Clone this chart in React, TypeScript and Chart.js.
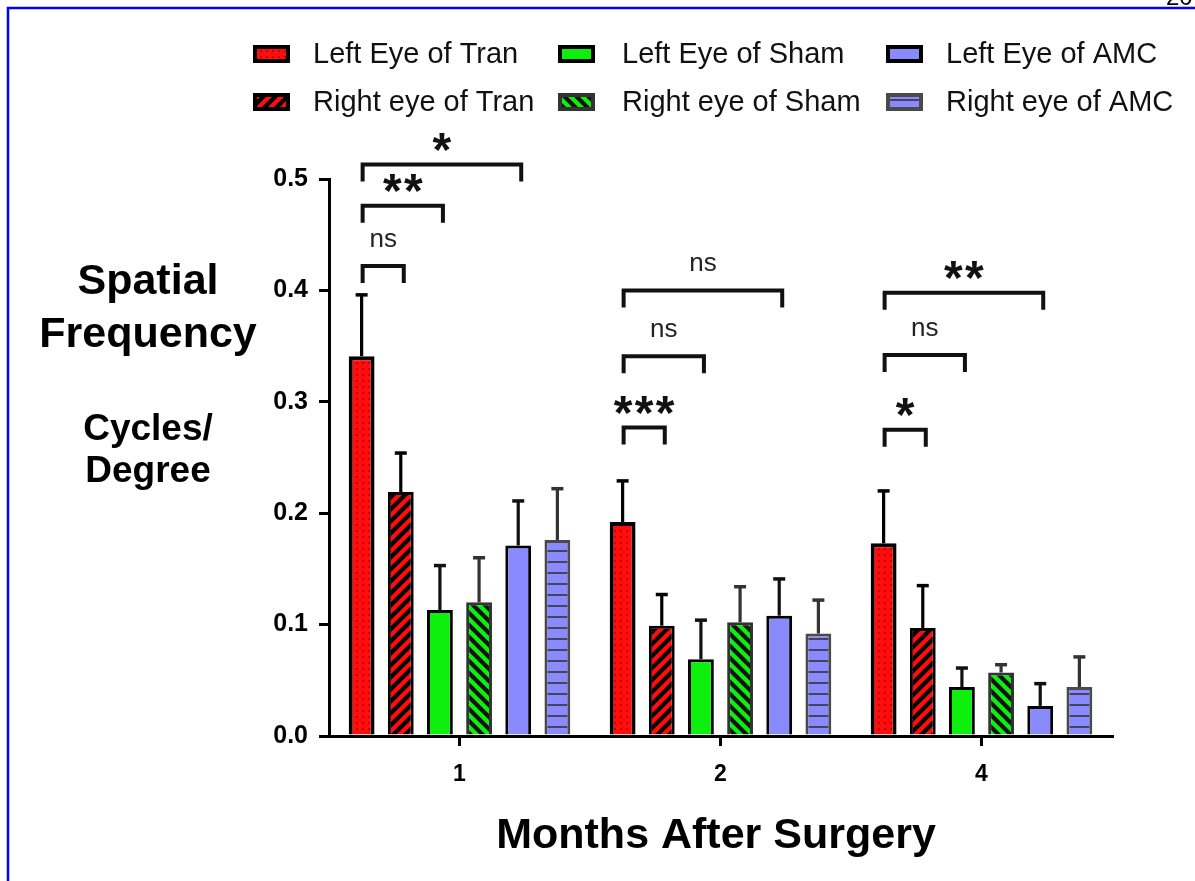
import React, { useEffect, useRef } from "react";
import { Chart, registerables } from "chart.js";
Chart.register(...registerables);

const months = ["1", "2", "4"];
const seriesNames = [
  "Left Eye of Tran",
  "Right eye of Tran",
  "Left Eye of Sham",
  "Right eye of Sham",
  "Left Eye of AMC",
  "Right eye of AMC",
];
const leftTranMean = [0.341, 0.192, 0.173];
const leftTranErr = [0.055, 0.037, 0.047];
const rightTranMean = [0.219, 0.099, 0.097];
const rightTranErr = [0.035, 0.028, 0.038];
const leftShamMean = [0.113, 0.069, 0.044];
const leftShamErr = [0.04, 0.035, 0.017];
const rightShamMean = [0.12, 0.102, 0.057];
const rightShamErr = [0.04, 0.032, 0.007];
const leftAmcMean = [0.171, 0.108, 0.027];
const leftAmcErr = [0.04, 0.033, 0.02];
const rightAmcMean = [0.176, 0.092, 0.044];
const rightAmcErr = [0.046, 0.03, 0.027];
const yTickStep = 0.1;
const yMax = 0.5;

// significance brackets: month index, from series 0 to series index, height (data units), label
const bracketMonth = [0, 0, 0, 1, 1, 1, 2, 2, 2];
const bracketTo = [4, 2, 1, 4, 2, 1, 4, 2, 1];
const bracketLevel = [0.513, 0.476, 0.422, 0.4, 0.341, 0.277, 0.398, 0.342, 0.275];
const bracketLabel = ["*", "**", "ns", "ns", "ns", "***", "**", "ns", "*"];

const FONT = "'Liberation Sans', Arial, Helvetica, sans-serif";

export default function App() {
  const ref = useRef<HTMLCanvasElement>(null);

  useEffect(() => {
    const canvas = ref.current!;
    const ctx0 = canvas.getContext("2d")!;
    const tile = (w: number, h: number, draw: (g: CanvasRenderingContext2D) => void) => {
      const c = document.createElement("canvas");
      c.width = w;
      c.height = h;
      const g = c.getContext("2d")!;
      draw(g);
      return ctx0.createPattern(c, "repeat")!;
    };
    const RED = "#ff0d0d";
    const GREEN = "#0df00d";
    const BLUE = "#8a8aff";

    const dots = tile(6, 6, (g) => {
      g.fillStyle = RED;
      g.fillRect(0, 0, 6, 6);
      g.fillStyle = "#b00000";
      g.beginPath();
      g.arc(3, 3, 1, 0, Math.PI * 2);
      g.fill();
    });
    const stripesUp = tile(12, 12, (g) => {
      g.fillStyle = RED;
      g.fillRect(0, 0, 12, 12);
      g.strokeStyle = "#000";
      g.lineWidth = 4.2;
      g.beginPath();
      g.moveTo(-6, 6); g.lineTo(6, -6);
      g.moveTo(-2, 14); g.lineTo(14, -2);
      g.moveTo(6, 18); g.lineTo(18, 6);
      g.stroke();
    });
    const stripesDown = tile(12, 12, (g) => {
      g.fillStyle = GREEN;
      g.fillRect(0, 0, 12, 12);
      g.strokeStyle = "#111";
      g.lineWidth = 4.2;
      g.beginPath();
      g.moveTo(6, -6); g.lineTo(18, 6);
      g.moveTo(-2, -2); g.lineTo(14, 14);
      g.moveTo(-6, 6); g.lineTo(6, 18);
      g.stroke();
    });
    const hlines = tile(4, 11, (g) => {
      g.fillStyle = BLUE;
      g.fillRect(0, 0, 4, 11);
      g.fillStyle = "#44445e";
      g.fillRect(0, 0, 4, 2);
    });

    const means = [leftTranMean, rightTranMean, leftShamMean, rightShamMean, leftAmcMean, rightAmcMean];
    const errs = [leftTranErr, rightTranErr, leftShamErr, rightShamErr, leftAmcErr, rightAmcErr];
    const fills: any[] = [dots, stripesUp, GREEN, stripesDown, BLUE, hlines];
    const borders = ["#000", "#000", "#000", "#333", "#000", "#4a4a4a"];
    const borderW = [4, 3, 3, 3, 3, 3];
    const errColor = ["#000", "#000", "#111", "#333", "#111", "#333"];

    const decor = {
      id: "decor",
      beforeDraw(chart: any) {
        const c = chart.ctx;
        c.save();
        c.fillStyle = "#fff";
        c.fillRect(0, 0, chart.width, chart.height);
        c.restore();
      },
      afterDatasetsDraw(chart: any) {
        const c: CanvasRenderingContext2D = chart.ctx;
        const ys = chart.scales.y;
        c.save();
        // error bars
        for (let i = 0; i < means.length; i++) {
          const meta = chart.getDatasetMeta(i);
          meta.data.forEach((el: any, j: number) => {
            const top = ys.getPixelForValue(means[i][j] + errs[i][j]);
            c.strokeStyle = errColor[i];
            c.lineWidth = 3.2;
            c.beginPath();
            c.moveTo(el.x, el.y);
            c.lineTo(el.x, top);
            c.stroke();
            c.lineWidth = 3.5;
            c.beginPath();
            c.moveTo(el.x - 6, top);
            c.lineTo(el.x + 6, top);
            c.stroke();
          });
        }
        // brackets
        for (let k = 0; k < bracketLabel.length; k++) {
          const m = bracketMonth[k];
          const x1 = chart.getDatasetMeta(0).data[m].x + 1;
          const x2 = chart.getDatasetMeta(bracketTo[k]).data[m].x + 3;
          const y = ys.getPixelForValue(bracketLevel[k]);
          c.strokeStyle = "#111";
          c.lineWidth = 4;
          c.lineJoin = "miter";
          c.lineCap = "butt";
          c.beginPath();
          c.moveTo(x1, y + 17);
          c.lineTo(x1, y);
          c.lineTo(x2, y);
          c.lineTo(x2, y + 17);
          c.stroke();
          const mid = (x1 + x2) / 2;
          const lab = bracketLabel[k];
          if (lab === "ns") {
            c.font = `26px ${FONT}`;
            c.fillStyle = "#222";
            c.textAlign = "center";
            c.textBaseline = "alphabetic";
            c.fillText(lab, mid, y - 19);
          } else {
            c.font = `bold 48px ${FONT}`;
            c.fillStyle = "#111";
            c.textAlign = "center";
            c.textBaseline = "alphabetic";
            const mt = c.measureText("*");
            const off = (mt.actualBoundingBoxAscent - mt.actualBoundingBoxDescent) / 2;
            const cy = y - 22.5;
            const n = lab.length;
            const step = 21;
            for (let q = 0; q < n; q++) {
              const cx = mid + (q - (n - 1) / 2) * step;
              c.fillText("*", cx, cy + off);
            }
          }
        }
        c.restore();
      },
      afterDraw(chart: any) {
        const c: CanvasRenderingContext2D = chart.ctx;
        c.save();
        // legend
        const colBox = [253, 558, 886];
        const colText = [313, 622, 946];
        const rowBase = [63, 111];
        for (let i = 0; i < seriesNames.length; i++) {
          const col = Math.floor(i / 2);
          const row = i % 2;
          const bx = colBox[col];
          const by = rowBase[row] - 18;
          const bw = 37;
          const bh = 18;
          c.fillStyle = fills[i];
          c.fillRect(bx, by, bw, bh);
          c.strokeStyle = borders[i];
          c.lineWidth = 4;
          c.strokeRect(bx + 2, by + 2, bw - 4, bh - 4);
          c.fillStyle = "#111";
          c.font = `29px ${FONT}`;
          c.textAlign = "left";
          c.textBaseline = "alphabetic";
          c.fillText(seriesNames[i], colText[col], rowBase[row]);
        }
        // y title
        c.fillStyle = "#000";
        c.textAlign = "center";
        c.font = `bold 43px ${FONT}`;
        c.fillText("Spatial", 148, 294);
        c.fillText("Frequency", 148, 347);
        c.font = `bold 37px ${FONT}`;
        c.fillText("Cycles/", 148, 440);
        c.fillText("Degree", 148, 482);
        // x title
        c.font = `bold 43px ${FONT}`;
        c.fillText("Months After Surgery", 716, 848);
        // page number fragment
        c.font = `24px ${FONT}`;
        c.textAlign = "left";
        c.fillText("20", 1166, 5);
        // frame
        c.strokeStyle = "#0000ff";
        c.lineWidth = 2.5;
        c.beginPath();
        c.moveTo(8, chart.height);
        c.lineTo(8, 8);
        c.lineTo(chart.width, 8);
        c.stroke();
        c.restore();
      },
    };

    const chart = new Chart(canvas, {
      type: "bar",
      data: {
        labels: months,
        datasets: seriesNames.map((name, i) => ({
          label: name,
          data: means[i],
          backgroundColor: fills[i],
          borderColor: borders[i],
          borderWidth: borderW[i],
          categoryPercentage: 0.9,
          barPercentage: 0.66,
        })),
      },
      options: {
        animation: false,
        responsive: false,
        events: [],
        layout: { padding: { top: 179, left: 0, right: 83, bottom: 0 } },
        plugins: { legend: { display: false }, tooltip: { enabled: false }, title: { display: false } },
        scales: {
          x: {
            afterFit: (s: any) => { s.height = 145; },
            grid: { display: true, drawOnChartArea: false, drawTicks: true, tickLength: 10, lineWidth: 3, color: "#000", offset: false },
            border: { display: true, color: "#000", width: 3 },
            ticks: { color: "#000", font: { family: FONT, size: 23, weight: "bold" }, padding: 15 },
          },
          y: {
            min: 0,
            max: yMax,
            afterFit: (s: any) => { s.width = 329; },
            grid: { display: true, drawOnChartArea: false, drawTicks: true, tickLength: 10, lineWidth: 3, color: "#000" },
            border: { display: true, color: "#000", width: 3 },
            ticks: {
              stepSize: yTickStep,
              color: "#000",
              padding: 11,
              font: { family: FONT, size: 25, weight: "bold" },
              callback: (v: any) => Number(v).toFixed(1),
            },
          },
        },
      },
      plugins: [decor],
    } as any);
    return () => chart.destroy();
  }, []);

  return (
    <div style={{ position: "absolute", left: 0, top: 0, width: 1195, height: 881, background: "#fff" }}>
      <canvas ref={ref} width={1195} height={881} style={{ display: "block" }} />
    </div>
  );
}
